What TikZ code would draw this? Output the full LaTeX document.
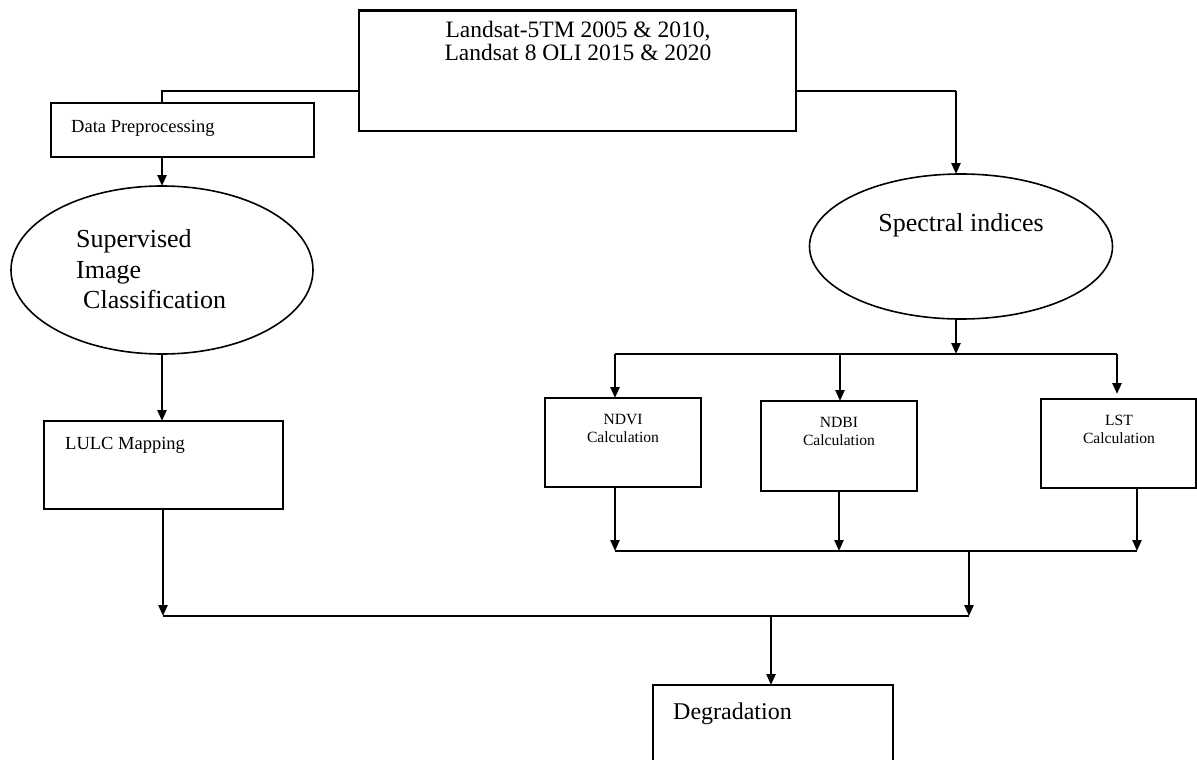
\documentclass[tikz,border=0pt]{standalone}
\usepackage{fontspec}
\setmainfont{Liberation Serif}
\usetikzlibrary{arrows.meta,shapes.geometric}
\tikzset{
  box/.style={draw, line width=2.6pt, inner sep=0pt, outer sep=0pt},
  oval/.style={draw, ellipse, line width=1.6pt, inner sep=0pt, outer sep=0pt},
  txt/.style={inner sep=0pt, anchor=base west},
  ctxt/.style={inner sep=0pt, anchor=base},
  big/.style={font=\fontsize{26}{30}\selectfont},
  mid/.style={font=\fontsize{23.5}{23}\selectfont},
  small/.style={font=\fontsize{18.5}{22}\selectfont},
  tiny/.style={font=\fontsize{15.6}{18}\selectfont},
  link/.style={line width=2.4pt},
  arr/.style={line width=2.4pt, -{Triangle[length=11pt,width=9pt]}},
}
\begin{document}
\begin{tikzpicture}[x=1pt,y=-1pt]
\useasboundingbox (0,0) rectangle (1197,760);
\clip (0,0) rectangle (1197,760);

% boxes and ovals
\node[box, minimum width=437pt, minimum height=120.5pt] (top) at (577.5,70.75) {};
\node[box, minimum width=263pt, minimum height=54pt] (dp) at (182.5,130) {};
\node[oval, minimum width=302pt, minimum height=168pt] (sup) at (162,270) {};
\node[box, minimum width=239pt, minimum height=88pt] (lulc) at (163.5,465) {};
\node[oval, minimum width=303pt, minimum height=145pt] (spec) at (961,246.5) {};
\node[box, minimum width=156pt, minimum height=89pt] (ndvi) at (623,442.5) {};
\node[box, minimum width=156pt, minimum height=90pt] (ndbi) at (839,446) {};
\node[box, minimum width=155pt, minimum height=89pt] (lst) at (1118.5,443.5) {};
\node[box, minimum width=240pt, minimum height=90pt] (deg) at (773,730) {};

% texts
\node[ctxt, mid] (t1) at (578,38) {Landsat-5TM 2005 \& 2010,};
\node[ctxt, mid] (t2) at (578,61) {Landsat 8 OLI 2015 \& 2020};
\node[txt, small] (tdp) at (71,132) {Data Preprocessing};
\node[txt, big] (ts1) at (76,247) {Supervised};
\node[txt, big] (ts2) at (76,278) {Image};
\node[txt, big] (ts3) at (83,308) {Classification};
\node[txt, small] (tlulc) at (65,449) {LULC Mapping};
\node[ctxt, big] (tspec) at (961,231) {Spectral indices};
\node[ctxt, tiny] (tn1) at (623,424) {NDVI};
\node[ctxt, tiny] (tn2) at (623,442) {Calculation};
\node[ctxt, tiny] (tb1) at (839,427) {NDBI};
\node[ctxt, tiny] (tb2) at (839,445) {Calculation};
\node[ctxt, tiny] (tl1) at (1119,425) {LST};
\node[ctxt, tiny] (tl2) at (1119,443) {Calculation};
\node[txt, font=\fontsize{24}{28}\selectfont] (tdeg) at (673,719) {Degradation};

% junction points
\coordinate (tl) at (162,91);
\coordinate (tr) at (956,91);
\coordinate (s0) at (956,354);
\coordinate (b0l) at (615,354);
\coordinate (b0m) at (840,354);
\coordinate (b0r) at (1117,354);
\coordinate (b1l) at (615,551);
\coordinate (b1m) at (839,551);
\coordinate (b1r) at (1137,551);
\coordinate (b1j) at (969,551);
\coordinate (b2l) at (163,616);
\coordinate (b2r) at (969,616);
\coordinate (dm) at (771,616);

% connectors
\draw[link] (top.west|-tl) -- (tl) -- (dp.north-|tl);
\draw[link] (top.east|-tr) -- (tr);
\draw[arr] (tr) -- (tr|-spec.north);
\draw[arr] (sup.north|-dp.south) -- (sup.north);
\draw[arr] (sup.south) -- (lulc.north-|sup.south);
\draw[arr] (s0|-spec.south) -- (s0);
\draw[link] (b0l) -- (b0r);
\draw[arr] (b0l) -- (b0l|-ndvi.north);
\draw[arr] (b0m) -- (b0m|-ndbi.north);
\draw[arr, shorten >=5pt] (b0r) -- (b0r|-lst.north);
\draw[arr] (ndvi.south-|b1l) -- (b1l);
\draw[arr] (ndbi.south-|b1m) -- (b1m);
\draw[arr] (lst.south-|b1r) -- (b1r);
\draw[link] (b1l) -- (b1r);
\draw[arr] (b1j) -- (b2r);
\draw[arr] (lulc.south-|b2l) -- (b2l);
\draw[link] (b2l) -- (b2r);
\draw[arr] (dm) -- (dm|-deg.north);
\end{tikzpicture}
\end{document}
